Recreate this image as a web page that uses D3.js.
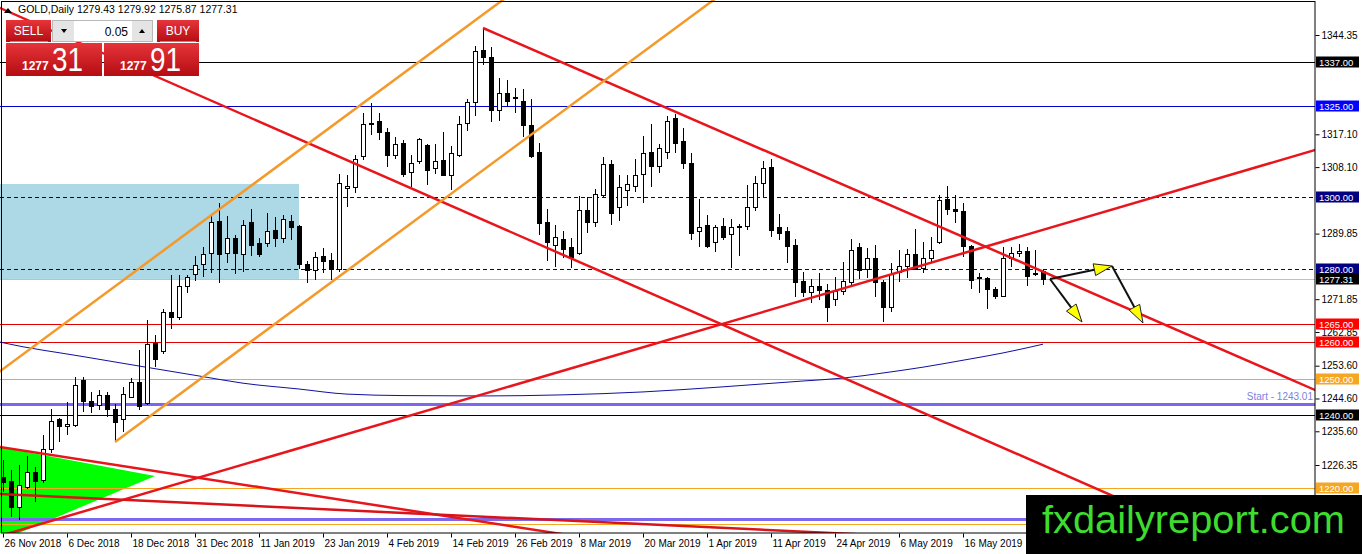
<!DOCTYPE html>
<html>
<head>
<meta charset="utf-8">
<script src="https://d3js.org/d3.v7.min.js"></script>
<style>
html, body { margin: 0; padding: 0; background: #fff; overflow: hidden; }
svg { display: block; font-family: "Liberation Sans", Arial, sans-serif; }
</style>
</head>
<body>
<svg id="chart" width="1362" height="554"></svg>
<script>
// GOLD daily bars, 26 Nov 2018 .. 30 May 2019 (bar index 0..130)
var opens = [1223.0,1221.9,1214.8,1220.3,1224.2,1222.2,1230.5,1238.7,1236.9,1237.3,
	1249.6,1243.9,1242.8,1245.3,1241.7,1238.9,1245.0,1249.1,1243.1,1259.8,
	1257.4,1268.1,1266.7,1275.2,1278.5,1281.5,1284.5,1293.3,1284.5,1288.4,
	1284.2,1292.8,1287.0,1287.0,1290.8,1288.6,1293.3,1291.7,1281.5,1279.6,
	1283.7,1282.6,1279.9,1302.3,1302.4,1310.9,1319.7,1320.5,1317.5,1311.4,
	1314.7,1306.5,1309.5,1313.9,1307.6,1309.8,1305.7,1311.4,1320.2,1325.7,
	1340.0,1338.3,1323.5,1328.4,1327.3,1326.0,1319.6,1312.2,1293.0,1286.7,
	1288.1,1285.9,1284.5,1296.3,1292.8,1300.4,1308.9,1296.9,1301.8,1302.9,
	1306.2,1312.2,1308.4,1312.0,1321.3,1315.2,1309.2,1290.3,1292.2,1287.3,
	1291.7,1289.5,1291.5,1291.9,1297.1,1303.7,1307.9,1291.4,1290.3,1286.7,
	1276.6,1273.6,1275.2,1274.1,1271.9,1273.9,1276.3,1285.9,1279.9,1282.9,
	1276.3,1269.7,1279.3,1280.7,1284.0,1280.4,1283.1,1287.3,1299.1,1296.6,
	1295.8,1286.2,1277.4,1277.4,1274.4,1272.7,1283.1,1284.5,1285.0,1278.5,
	1279.43];
var highs = [1227.7,1225.0,1226.3,1228.8,1225.8,1234.6,1241.7,1239.2,1243.6,1250.5,
	1250.5,1246.4,1246.9,1246.4,1243.1,1247.8,1250.2,1257.9,1266.1,1262.0,
	1269.2,1278.5,1278.5,1278.5,1283.7,1286.2,1295.0,1298.2,1294.7,1289.5,
	1293.6,1296.6,1288.6,1295.5,1294.4,1295.0,1295.0,1292.2,1282.3,1284.8,
	1285.9,1284.5,1306.2,1305.9,1311.4,1323.0,1325.7,1323.0,1318.8,1316.4,
	1315.5,1311.4,1316.1,1314.4,1314.4,1317.7,1313.9,1322.1,1326.8,1341.3,
	1346.3,1341.0,1332.5,1332.0,1329.8,1329.5,1326.8,1314.7,1296.6,1292.2,
	1290.6,1288.6,1300.2,1299.9,1302.1,1310.9,1310.0,1305.9,1305.9,1310.3,
	1316.6,1319.9,1314.4,1322.1,1322.6,1318.8,1312.0,1299.3,1295.0,1292.2,
	1294.1,1293.8,1292.5,1303.2,1305.6,1309.8,1310.3,1295.2,1291.7,1288.4,
	1279.3,1277.4,1279.0,1276.0,1278.0,1282.0,1288.4,1287.3,1285.9,1286.7,
	1277.1,1281.8,1285.3,1285.6,1291.1,1287.5,1288.9,1300.4,1302.9,1300.4,
	1298.2,1286.7,1279.0,1278.0,1275.2,1286.2,1286.2,1287.0,1286.2,1285.3,
	1279.92];
var lows = [1219.0,1212.0,1211.2,1219.8,1216.2,1221.4,1229.6,1232.6,1234.6,1236.8,
	1240.9,1240.6,1241.4,1239.5,1232.6,1235.4,1244.7,1241.4,1242.8,1253.2,
	1256.8,1263.7,1266.1,1273.6,1276.8,1277.9,1279.0,1276.3,1281.8,1278.8,
	1279.3,1283.7,1283.4,1286.2,1286.2,1287.3,1288.1,1280.1,1276.3,1277.1,
	1279.0,1277.1,1279.3,1297.1,1301.0,1310.0,1316.9,1315.5,1308.1,1310.3,
	1305.4,1302.6,1309.0,1303.2,1306.2,1305.6,1301.8,1310.9,1318.0,1322.1,
	1336.1,1320.5,1320.7,1324.6,1322.9,1316.4,1310.6,1289.5,1282.3,1280.7,
	1283.1,1280.4,1284.0,1290.0,1291.7,1300.0,1292.2,1293.3,1297.4,1301.3,
	1298.2,1302.6,1306.5,1310.3,1312.0,1307.6,1288.1,1286.2,1285.9,1284.8,
	1288.1,1280.4,1283.7,1290.8,1296.0,1299.9,1288.9,1288.0,1281.8,1272.4,
	1272.4,1270.8,1271.6,1265.6,1270.0,1273.0,1275.5,1277.4,1277.6,1272.4,
	1265.6,1268.3,1276.6,1277.6,1279.9,1279.0,1282.0,1287.0,1295.0,1292.8,
	1283.4,1274.6,1273.6,1269.2,1271.9,1272.4,1280.7,1283.4,1275.5,1278.2,
	1275.87];
var closes = [1221.6,1214.8,1220.6,1224.2,1221.7,1230.5,1238.2,1236.8,1237.5,1248.3,
	1243.9,1242.5,1245.3,1241.7,1237.9,1245.6,1248.9,1242.3,1259.5,1255.4,
	1268.1,1266.7,1275.2,1277.7,1281.2,1284.0,1293.0,1284.2,1288.4,1284.5,
	1292.2,1286.7,1284.2,1290.3,1288.4,1293.6,1291.4,1281.5,1279.8,1283.4,
	1282.3,1280.1,1303.7,1302.8,1310.3,1319.9,1320.0,1317.5,1311.4,1314.4,
	1306.2,1309.0,1315.8,1307.3,1309.5,1305.7,1311.7,1319.9,1325.7,1339.7,
	1338.3,1323.5,1328.2,1326.0,1327.0,1319.4,1310.9,1292.5,1287.5,1288.9,
	1285.6,1283.4,1296.3,1292.8,1300.7,1308.7,1295.5,1302.6,1303.2,1305.9,
	1311.7,1308.4,1313.3,1320.5,1314.7,1309.2,1290.0,1291.4,1286.4,1291.4,
	1288.9,1291.4,1291.8,1297.1,1303.5,1307.6,1290.8,1290.0,1286.2,1276.3,
	1273.6,1275.2,1274.1,1269.7,1273.9,1276.6,1285.3,1279.6,1282.9,1276.3,
	1269.7,1278.5,1280.7,1284.0,1280.1,1283.1,1285.3,1298.8,1296.6,1296.0,
	1286.2,1277.1,1277.9,1274.4,1272.7,1282.9,1284.5,1285.0,1278.2,1279.0,
	1277.31];

// moving average line as [bar, price]
var maPoints = [[-0.4,1260.1],[0,1259.9],[10,1256.1],[25,1250.6],[30,1248.8],[37,1247.2],
	[43,1245.8],[50,1245.4],[60,1245.3],[70,1245.6],[80,1246.4],[90,1247.8],[100,1249.4],
	[105,1250.2],[110,1251.6],[115,1253.2],[120,1255.1],[125,1257.1],[130,1259.5]];

var dateTicks = [0,8,16,24,32,40,48,56,64,72,80,88,96,104,112,120];
var dateLabels = ["26 Nov 2018","6 Dec 2018","18 Dec 2018","31 Dec 2018","11 Jan 2019",
	"23 Jan 2019","4 Feb 2019","14 Feb 2019","26 Feb 2019","8 Mar 2019","20 Mar 2019",
	"1 Apr 2019","11 Apr 2019","24 Apr 2019","6 May 2019","16 May 2019"];
var priceTicks = [1344.35,1335.35,1326.35,1317.10,1308.10,1299.10,1289.85,1280.85,
	1271.85,1262.85,1253.60,1244.60,1235.60,1226.35,1217.35];

// horizontal levels
var levelNames = ["r1337","r1325","d1300","d1280","s1265","s1260","o1250","start","b1240","o1220","p1211","o1210"];
var levelPrices = [1337.00,1325.00,1300.00,1280.00,1265.00,1260.00,1250.00,1243.01,1240.00,1220.00,1211.5,1210.2];
var bidPrice = 1277.31;

// trend lines as [bar, price] pairs
var trendNames = ["redA","redB","redC","redD1","redD2","orangeUp","orangeLow"];
var trendStart = [[-0.375,1351.76],[60,1346.27],[0.875,1207.69],[-0.375,1231.29],[-0.375,1218.39],[0,1252.69],[14,1232.66]];
var trendEnd = [[138.375,1218.20],[164,1246.93],[164,1312.79],[69,1207.69],[100.875,1207.96],[56.875,1344.90],[70.875,1324.87]];

// zone and triangle
var zoneBars = [-2, 37];
var zonePrices = [1303.46, 1277.4];
var triangle = [[-0.375,1231.29],[19,1223.33],[-0.375,1205.5]];

// projection arrows
var arrowFrom = [[130.875,1277.39],[138.625,1280.96],[130.875,1277.39]];
var arrowTo = [[138.625,1280.96],[142.5,1265.32],[134.875,1265.59]];

var header = ["GOLD,Daily", "1279.43 1279.92 1275.87 1277.31"];

var W = 1315, H = 533;
var svg = d3.select("#chart");

var x = d3.scaleLinear().domain([0, 130]).range([3, 1043]);
var y = d3.scaleLinear().domain([1226.35, 1344.35]).range([465, 35]);

svg.append("defs").append("clipPath").attr("id", "plot")
	.append("rect").attr("x", 0).attr("y", 0).attr("width", W).attr("height", H);

var g = svg.append("g").attr("clip-path", "url(#plot)");

// zone
g.append("rect")
	.attr("x", x(zoneBars[0])).attr("y", y(zonePrices[0]))
	.attr("width", x(zoneBars[1]) - x(zoneBars[0]))
	.attr("height", y(zonePrices[1]) - y(zonePrices[0]))
	.attr("fill", "#add8e6");

// green triangle
g.append("path")
	.attr("d", d3.line().x(function(d) { return x(d[0]); }).y(function(d) { return y(d[1]); })(triangle) + "Z")
	.attr("fill", "#00ff00");

// horizontal levels
var levelStyle = {
	r1337: {c: "#000000", w: 1},
	r1325: {c: "#0000c8", w: 1},
	d1300: {c: "#000080", w: 1, dash: "4,3"},
	d1280: {c: "#000080", w: 1, dash: "4,3"},
	s1265: {c: "#e00000", w: 1},
	s1260: {c: "#e00000", w: 1},
	o1250: {c: "#f5a623", w: 1},
	start: {c: "#7b68ee", w: 3},
	b1240: {c: "#000000", w: 1},
	o1220: {c: "#f5a623", w: 1},
	p1211: {c: "#7b68ee", w: 3},
	o1210: {c: "#f5a623", w: 1}
};

g.append("line")
	.attr("x1", 0).attr("x2", W)
	.attr("y1", Math.round(y(bidPrice)) + 0.5).attr("y2", Math.round(y(bidPrice)) + 0.5)
	.attr("stroke", "#c0c0c0").attr("stroke-width", 1);

levelNames.forEach(function(n, i) {
	var s = levelStyle[n];
	var yy = Math.round(y(levelPrices[i])) + 0.5;
	g.append("line")
		.attr("x1", 0).attr("x2", W).attr("y1", yy).attr("y2", yy)
		.attr("stroke", s.c).attr("stroke-width", s.w)
		.attr("stroke-dasharray", s.dash || null);
});

g.append("text")
	.attr("x", W - 2).attr("y", y(1243.01) - 4)
	.attr("text-anchor", "end").attr("font-size", 10).attr("fill", "#8080e0")
	.text("Start - 1243.01");

// moving average
g.append("path")
	.attr("d", d3.line().curve(d3.curveMonotoneX)
		.x(function(d) { return x(d[0]); }).y(function(d) { return y(d[1]); })(maPoints))
	.attr("fill", "none").attr("stroke", "#1010a0").attr("stroke-width", 1);

// candles
var bars = d3.range(opens.length);
var cg = g.append("g").attr("shape-rendering", "crispEdges");
cg.selectAll("line.wick").data(bars).enter().append("line")
	.attr("class", "wick")
	.attr("x1", function(i) { return x(i) + 0.5; })
	.attr("x2", function(i) { return x(i) + 0.5; })
	.attr("y1", function(i) { return y(highs[i]); })
	.attr("y2", function(i) { return y(lows[i]); })
	.attr("stroke", "#000");
cg.selectAll("rect.body").data(bars).enter().append("rect")
	.attr("class", "body")
	.attr("x", function(i) { return x(i) - 1.5; })
	.attr("width", 4)
	.attr("y", function(i) { return y(Math.max(opens[i], closes[i])); })
	.attr("height", function(i) { return Math.max(1, Math.abs(y(opens[i]) - y(closes[i]))); })
	.attr("fill", function(i) { return closes[i] >= opens[i] ? "#fff" : "#000"; })
	.attr("stroke", "#000");

// trend lines
var trendStyle = {
	redA: {c: "#e8161c"}, redB: {c: "#e8161c", ray: true}, redC: {c: "#e8161c"},
	redD1: {c: "#e8161c"}, redD2: {c: "#d8141a"},
	orangeUp: {c: "#f39a2b"}, orangeLow: {c: "#f39a2b", ray: true}
};
trendNames.forEach(function(n, i) {
	var s = trendStyle[n];
	var x1 = x(trendStart[i][0]), y1 = y(trendStart[i][1]);
	var x2 = x(trendEnd[i][0]), y2 = y(trendEnd[i][1]);
	var k = (y2 - y1) / (x2 - x1);
	var xa = s.ray ? x1 : -20, xb = 1400;
	g.append("line")
		.attr("x1", xa).attr("y1", y1 + k * (xa - x1))
		.attr("x2", xb).attr("y2", y1 + k * (xb - x1))
		.attr("stroke", s.c).attr("stroke-width", 2.5);
});

// arrows
arrowFrom.forEach(function(p, i) {
	var x1 = x(p[0]), y1 = y(p[1]), x2 = x(arrowTo[i][0]), y2 = y(arrowTo[i][1]);
	var len = Math.hypot(x2 - x1, y2 - y1), ux = (x2 - x1) / len, uy = (y2 - y1) / len;
	var hl = 18, hw = 6;
	var bx = x2 - ux * hl, by = y2 - uy * hl;
	g.append("line").attr("x1", x1).attr("y1", y1).attr("x2", bx).attr("y2", by)
		.attr("stroke", "#111").attr("stroke-width", 2);
	g.append("path")
		.attr("d", "M" + x2 + "," + y2 + "L" + (bx - uy * hw) + "," + (by + ux * hw) +
			"L" + (bx + uy * hw) + "," + (by - ux * hw) + "Z")
		.attr("fill", "#ffff00").attr("stroke", "#222").attr("stroke-width", 1);
});

// frame
svg.append("rect").attr("x", 1.5).attr("y", 1.5).attr("width", W - 1.5).attr("height", H - 1.5)
	.attr("fill", "none").attr("stroke", "#000").attr("stroke-width", 1);

// level labels on the price axis
var labelBg = {
	r1337: "#000000", r1325: "#0000ff", d1300: "#000080", d1280: "#000080",
	s1265: "#ff0000", s1260: "#ff0000", o1250: "#f5a623", b1240: "#000000", o1220: "#f5a623"
};
var labelled = levelPrices.filter(function(p, i) { return labelBg[levelNames[i]]; }).concat([bidPrice]);

// price ticks hidden behind a level label or the watermark are left out
var shownTicks = priceTicks.filter(function(t) {
	if (y(t) > 490) return false;
	return !labelled.some(function(p) { return Math.abs(y(p) - y(t)) < 7; });
});

// axes
var yAxis = svg.append("g").attr("transform", "translate(" + (W + 0.5) + ",0)")
	.call(d3.axisRight(y).tickValues(shownTicks).tickFormat(d3.format(".2f")).tickSize(4).tickPadding(2));
yAxis.select(".domain").remove();
yAxis.selectAll("text").attr("font-size", 10).attr("font-family", "Liberation Sans, Arial, sans-serif").attr("fill", "#000");
yAxis.selectAll("line").attr("stroke", "#000");

var xAxis = svg.append("g").attr("transform", "translate(0," + (H + 0.5) + ")")
	.call(d3.axisBottom(x).tickValues(dateTicks)
		.tickFormat(function(d, i) { return dateLabels[i]; }).tickSize(4).tickPadding(2));
xAxis.select(".domain").remove();
xAxis.selectAll("text").attr("text-anchor", "start").attr("dx", 1)
	.attr("font-size", 10).attr("font-family", "Liberation Sans, Arial, sans-serif").attr("fill", "#000");
xAxis.selectAll("line").attr("stroke", "#000");

function priceLabel(p, bg) {
	var yy = Math.round(y(p));
	svg.append("rect").attr("x", W + 1).attr("y", yy - 5.5).attr("width", 43).attr("height", 11).attr("fill", bg);
	svg.append("text").attr("x", W + 4).attr("y", yy + 3.5).attr("font-size", 9.5)
		.attr("fill", "#fff").text(p.toFixed(2));
}
levelNames.forEach(function(n, i) {
	if (labelBg[n]) priceLabel(levelPrices[i], labelBg[n]);
});
priceLabel(bidPrice, "#000000");

// header
svg.append("path").attr("d", "M4,13L8,8L12,13Z").attr("fill", "#000");
svg.append("text").attr("x", 18).attr("y", 13).attr("font-size", 10.5).attr("fill", "#000")
	.text(header[0] + "  " + header[1]);

// trade panel
var defs = svg.select("defs");
var grad = defs.append("linearGradient").attr("id", "redg").attr("x1", 0).attr("y1", 0).attr("x2", 0).attr("y2", 1);
grad.append("stop").attr("offset", "0%").attr("stop-color", "#e6343a");
grad.append("stop").attr("offset", "100%").attr("stop-color", "#b40d12");

var panel = svg.append("g");
panel.append("rect").attr("x", 6).attr("y", 20).attr("width", 45).attr("height", 22).attr("fill", "url(#redg)");
panel.append("rect").attr("x", 157).attr("y", 20).attr("width", 42).attr("height", 22).attr("fill", "url(#redg)");
panel.append("line").attr("x1", 10).attr("x2", 48).attr("y1", 41.5).attr("y2", 41.5).attr("stroke", "#f06a6a");
panel.append("line").attr("x1", 160).attr("x2", 196).attr("y1", 41.5).attr("y2", 41.5).attr("stroke", "#f06a6a");
panel.append("text").attr("x", 28.5).attr("y", 35).attr("text-anchor", "middle").attr("font-size", 12).attr("fill", "#fff").text("SELL");
panel.append("text").attr("x", 178).attr("y", 35).attr("text-anchor", "middle").attr("font-size", 12).attr("fill", "#fff").text("BUY");

panel.append("rect").attr("x", 52.5).attr("y", 20.5).attr("width", 100).attr("height", 21).attr("fill", "#fff").attr("stroke", "#b8b8b8");
panel.append("rect").attr("x", 53).attr("y", 21).attr("width", 21).attr("height", 20).attr("fill", "#e4e4e4");
panel.append("rect").attr("x", 132).attr("y", 21).attr("width", 20).attr("height", 20).attr("fill", "#e4e4e4");
panel.append("path").attr("d", "M61,29L67,29L64,33Z").attr("fill", "#000");
panel.append("path").attr("d", "M139,33L145,33L142,29Z").attr("fill", "#000");
panel.append("text").attr("x", 128).attr("y", 36).attr("text-anchor", "end").attr("font-size", 12).attr("fill", "#000").text("0.05");

panel.append("rect").attr("x", 6).attr("y", 43).attr("width", 96).attr("height", 33).attr("fill", "url(#redg)");
panel.append("rect").attr("x", 104).attr("y", 43).attr("width", 95).attr("height", 33).attr("fill", "url(#redg)");
function bigPrice(xs, small, big) {
	panel.append("text").attr("x", xs).attr("y", 70).attr("font-size", 12).attr("font-weight", "bold")
		.attr("fill", "#fff").text(small);
	panel.append("text").attr("x", xs + 30).attr("y", 71).attr("font-size", 34)
		.attr("textLength", 31).attr("lengthAdjust", "spacingAndGlyphs")
		.attr("fill", "#fff").text(big);
}
var bidStr = bidPrice.toFixed(2).split(".");
bigPrice(22, bidStr[0], bidStr[1]);
bigPrice(120, "1277", "91");

// watermark
svg.append("rect").attr("x", 1026).attr("y", 495).attr("width", 336).attr("height", 59).attr("fill", "#000");
svg.append("text").attr("x", 1042).attr("y", 533).attr("font-size", 38)
	.attr("textLength", 303).attr("lengthAdjust", "spacingAndGlyphs")
	.attr("fill", "#3ddc2f").text("fxdailyreport.com");
</script>
</body>
</html>
